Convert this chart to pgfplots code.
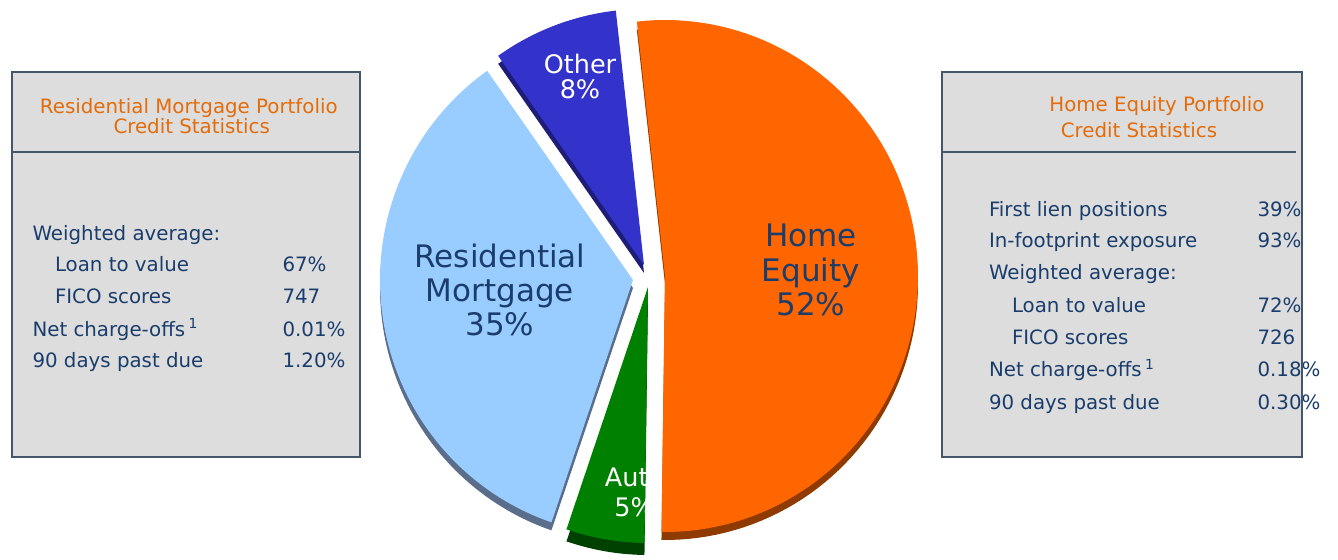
\documentclass[border=0pt]{standalone}
\usepackage{pgfplots}
\pgfplotsset{compat=1.18}
\usepackage{pgfplotstable}
\usepackage{fontspec}
\setmainfont{DejaVu Sans}

\definecolor{heq}{HTML}{FF6600}
\definecolor{heqd}{HTML}{8F3A00}
\definecolor{res}{HTML}{99CCFF}
\definecolor{resd}{HTML}{5A6E8C}
\definecolor{oth}{HTML}{3333CC}
\definecolor{othd}{HTML}{1E1E78}
\definecolor{aut}{HTML}{008000}
\definecolor{autd}{HTML}{004000}
\definecolor{navy}{HTML}{1A3D6C}
\definecolor{orng}{HTML}{E46C0A}
\definecolor{boxfill}{HTML}{DDDDDD}
\definecolor{boxline}{HTML}{46566A}

% share (%) and explode offset of each slice
\pgfplotstableread{
slice share dx dy
HomeEquity 52 20 3
Auto 5 3 -8
Residential 35 -12 -1
Other 8 -1 14
}\piedata

\newcommand{\pieslice}[5]{%
  \addplot[draw=none, fill=#5, domain=#1:#2, samples=90, variable=\t]
    ({#3+253*cos(\t)},{#4+256*sin(\t)}) -- (axis cs:#3,#4) -- cycle;
}
\newcommand{\getv}[3]{\pgfplotstablegetelem{#1}{#2}\of\piedata\pgfmathsetmacro#3{\pgfplotsretval}}

\begin{document}
\begin{tikzpicture}
\getv{0}{share}\sHE \getv{1}{share}\sAu \getv{2}{share}\sRe \getv{3}{share}\sOt
\getv{0}{dx}\dxHE \getv{1}{dx}\dxAu \getv{2}{dx}\dxRe \getv{3}{dx}\dxOt
\getv{0}{dy}\dyHE \getv{1}{dy}\dyAu \getv{2}{dy}\dyRe \getv{3}{dy}\dyOt
\pgfmathsetmacro\cx{645}\pgfmathsetmacro\cy{281}
\pgfmathsetmacro\aA{96.4}
\pgfmathsetmacro\aB{\aA-3.6*\sHE}
\pgfmathsetmacro\aC{\aB-3.6*\sAu}
\pgfmathsetmacro\aD{\aC-3.6*\sRe}
\pgfmathsetmacro\aE{\aD-3.6*\sOt}
\pgfmathsetmacro\xHE{\cx+\dxHE}\pgfmathsetmacro\yHE{\cy+\dyHE}\pgfmathsetmacro\zHE{\yHE-8}
\pgfmathsetmacro\xAu{\cx+\dxAu}\pgfmathsetmacro\yAu{\cy+\dyAu}\pgfmathsetmacro\zAu{\yAu-12}
\pgfmathsetmacro\xRe{\cx+\dxRe}\pgfmathsetmacro\yRe{\cy+\dyRe}\pgfmathsetmacro\zRe{\yRe-8}
\pgfmathsetmacro\xOt{\cx+\dxOt}\pgfmathsetmacro\yOt{\cy+\dyOt}\pgfmathsetmacro\zOt{\yOt-8}
\begin{axis}[at={(0,0)}, anchor=south west, width=1338bp, height=560bp,
  scale only axis, xmin=0, xmax=1338, ymin=0, ymax=560, hide axis, clip=false]

% ---- boxes
\fill[boxfill] (axis cs:12,103) rectangle (axis cs:360,488);
\fill[boxfill] (axis cs:942,103) rectangle (axis cs:1302,488);

% ---- pie: depth (shadow) then faces
\pieslice{\aB}{\aA}{\xHE}{\zHE}{heqd}
\pieslice{\aC}{\aB}{\xAu}{\zAu}{autd}
\pieslice{\aD}{\aC}{\xRe}{\zRe}{resd}
\pieslice{\aE}{\aD}{\xOt}{\zOt}{othd}
\pieslice{\aB}{\aA}{\xHE}{\yHE}{heq}
\pieslice{\aC}{\aB}{\xAu}{\yAu}{aut}
\pieslice{\aD}{\aC}{\xRe}{\yRe}{res}
\pieslice{\aE}{\aD}{\xOt}{\yOt}{oth}

% ---- slice labels
\begin{scope}[font=\fontsize{31bp}{36bp}\selectfont, text=navy]
\node[anchor=base] at (axis cs:811,313.3) {Home};
\node[anchor=base] at (axis cs:811,279) {Equity};
\node[anchor=base] at (axis cs:811,245) {52\%};
\node[anchor=base] at (axis cs:500,292.3) {Residential};
\node[anchor=base] at (axis cs:500,259) {Mortgage};
\node[anchor=base] at (axis cs:500,225) {35\%};
\end{scope}
\begin{scope}[font=\fontsize{25.5bp}{30bp}\selectfont, text=white]
\node[anchor=base] at (axis cs:580,486.7) {Other};
\node[anchor=base] at (axis cs:580,461.7) {8\%};
\begin{scope}
\clip (axis cs:560,20) rectangle (axis cs:647,110);
\node[anchor=base] at (axis cs:634.6,73.3) {Auto};
\node[anchor=base] at (axis cs:634.6,44) {5\%};
\end{scope}
\end{scope}

% ---- left box text
\begin{scope}[font=\fontsize{19.8bp}{24bp}\selectfont]
\node[anchor=base, text=orng] at (axis cs:188.8,446.7) {Residential Mortgage Portfolio};
\node[anchor=base, text=orng] at (axis cs:191.7,426) {Credit Statistics};
\node[anchor=base west, text=navy] at (axis cs:29,320) {Weighted average:};
\node[anchor=base west, text=navy] at (axis cs:51.5,289) {Loan to value};
\node[anchor=base west, text=navy] at (axis cs:51.5,257) {FICO scores};
\node[anchor=base west, text=navy] at (axis cs:29,224) {Net charge-offs\,\textsuperscript{1}};
\node[anchor=base west, text=navy] at (axis cs:29,193) {90 days past due};
\node[anchor=base west, text=navy] at (axis cs:279,289) {67\%};
\node[anchor=base west, text=navy] at (axis cs:279,257) {747};
\node[anchor=base west, text=navy] at (axis cs:279,224) {0.01\%};
\node[anchor=base west, text=navy] at (axis cs:279,193) {1.20\%};
% ---- right box text
\node[anchor=base, text=orng] at (axis cs:1157,448.3) {Home Equity Portfolio};
\node[anchor=base, text=orng] at (axis cs:1139,422.7) {Credit Statistics};
\node[anchor=base west, text=navy] at (axis cs:985.5,343.3) {First lien positions};
\node[anchor=base west, text=navy] at (axis cs:985.5,312.3) {In-footprint exposure};
\node[anchor=base west, text=navy] at (axis cs:985.5,280.7) {Weighted average:};
\node[anchor=base west, text=navy] at (axis cs:1008.5,247.7) {Loan to value};
\node[anchor=base west, text=navy] at (axis cs:1008.5,215.7) {FICO scores};
\node[anchor=base west, text=navy] at (axis cs:985.5,183.3) {Net charge-offs\,\textsuperscript{1}};
\node[anchor=base west, text=navy] at (axis cs:985.5,151) {90 days past due};
\node[anchor=base west, text=navy] at (axis cs:1254,343.3) {39\%};
\node[anchor=base west, text=navy] at (axis cs:1254,312.3) {93\%};
\node[anchor=base west, text=navy] at (axis cs:1254,247.7) {72\%};
\node[anchor=base west, text=navy] at (axis cs:1254,215.7) {726};
\node[anchor=base west, text=navy] at (axis cs:1254,183.3) {0.18\%};
\node[anchor=base west, text=navy] at (axis cs:1254,151) {0.30\%};
\end{scope}

% ---- box borders
\draw[boxline, line width=1.5bp] (axis cs:12,103) rectangle (axis cs:360,488);
\draw[boxline, line width=1.5bp] (axis cs:12,408) -- (axis cs:360,408);
\draw[boxline, line width=1.5bp] (axis cs:942,103) rectangle (axis cs:1302,488);
\draw[boxline, line width=1.5bp] (axis cs:942,408) -- (axis cs:1296,408);
\end{axis}
\pgfresetboundingbox
\useasboundingbox (0,0) rectangle (1338bp,560bp);
\end{tikzpicture}
\end{document}
